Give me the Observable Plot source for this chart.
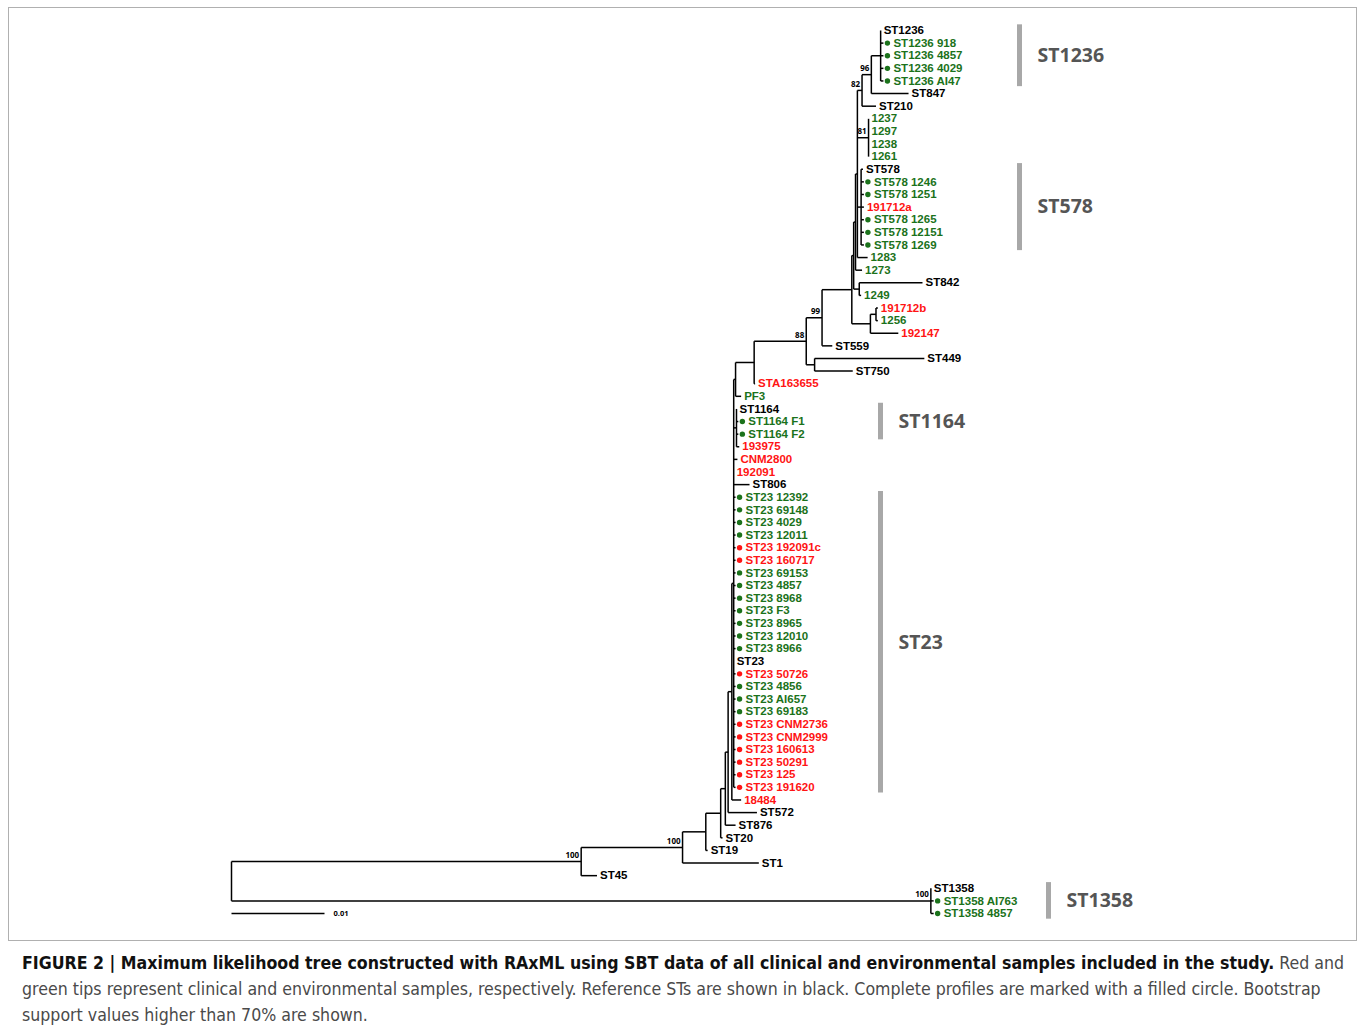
<!DOCTYPE html>
<html><head><meta charset="utf-8">
<script src="https://cdn.jsdelivr.net/npm/d3@7"></script>
<script src="https://cdn.jsdelivr.net/npm/@observablehq/plot@0.6"></script>
<style>
body{margin:0;background:#fff;font-family:"Liberation Sans",Arial,sans-serif;}
#frame{position:absolute;left:8px;top:7px;width:1347px;height:932px;border:1px solid #b0b0b0;}
#chart{position:absolute;left:0;top:0;}
#caption{position:absolute;left:22px;top:950px;font-size:17.6px;line-height:26px;color:#4a4a4a;white-space:nowrap;font-family:"Liberation Sans Narrow","DejaVu Sans Condensed","Liberation Sans",sans-serif;}
#caption b{color:#111;}
</style></head><body>
<div id="frame"></div>
<div id="chart"></div>
<div id="caption"><b>FIGURE 2 | Maximum likelihood tree constructed with RAxML using SBT data of all clinical and environmental samples included in the study.</b> Red and<br>green tips represent clinical and environmental samples, respectively. Reference STs are shown in black. Complete profiles are marked with a filled circle. Bootstrap<br>support values higher than 70% are shown.</div>
<script>
// ---- DATA: tree edges [parent, child, branch length (subst./site)] in top-to-bottom order
const edges = [
  ["root","A",0.0376],
  ["A","C",0.0109],
  ["C","D",0.0025],
  ["D","E",0.0016],
  ["E","F",0.0005],
  ["F","G",0.0003],
  ["G","H",0.0004],
  ["H","I",0.0002],
  ["I","J",0.0002],
  ["J","K",0.0020],
  ["K","N88",0.0056],
  ["N88","N99",0.0017],
  ["N99","X",0.0032],
  ["X","Y",0.0002],
  ["Y","Y3",0.0002],
  ["Y3","V",0.0002],
  ["V","N82",0.0005],
  ["N82","N96",0.0010],
  ["N96","N1236",0.0010],
  ["N1236","ST1236",0],
  ["N1236","ST1236 918",0.0003],
  ["N1236","ST1236 4857",0.0003],
  ["N1236","ST1236 4029",0.0003],
  ["N1236","ST1236 AI47",0.0003],
  ["N96","ST847",0.0040],
  ["N82","ST210",0.0015],
  ["V","N81",0.0012],
  ["N81","1237",0],["N81","1297",0],["N81","1238",0],["N81","1261",0],
  ["V","S",0.0004],
  ["S","ST578",0.0002],
  ["S","ST578 1246",0.0003],["S","ST578 1251",0.0003],["S","191712a",0.0003],
  ["S","ST578 1265",0.0003],["S","ST578 12151",0.0003],["S","ST578 1269",0.0003],
  ["V","1283",0.0011],
  ["Y3","1273",0.0007],
  ["Y","Z",0.0006],
  ["Z","ST842",0.0068],
  ["Z","1249",0.0002],
  ["X","Q",0.0020],
  ["Q","R",0.0006],
  ["R","191712b",0.0002],["R","1256",0.0002],
  ["Q","192147",0.0030],
  ["N99","ST559",0.0011],
  ["N88","N449",0.0009],
  ["N449","ST449",0.0118],
  ["N449","ST750",0.0041],
  ["K","STA163655",0.0001],
  ["J","PF3",0.0006],
  ["I","L",0.0003],
  ["L","ST1164",0],["L","ST1164 F1",0.0002],["L","ST1164 F2",0.0002],["L","193975",0.0003],
  ["I","CNM2800",0.0004],
  ["I","192091",0],
  ["I","ST806",0.0017],
  ["I","ST23 12392",0.0002],["I","ST23 69148",0.0002],["I","ST23 4029",0.0002],
  ["I","ST23 12011",0.0002],["I","ST23 192091c",0.0002],["I","ST23 160717",0.0002],
  ["I","ST23 69153",0.0002],["I","ST23 4857",0.0002],["I","ST23 8968",0.0002],
  ["I","ST23 F3",0.0002],["I","ST23 8965",0.0002],["I","ST23 12010",0.0002],
  ["I","ST23 8966",0.0002],["I","ST23",0],
  ["I","ST23 50726",0.0002],["I","ST23 4856",0.0002],["I","ST23 AI657",0.0002],
  ["I","ST23 69183",0.0002],["I","ST23 CNM2736",0.0002],["I","ST23 CNM2999",0.0002],
  ["I","ST23 160613",0.0002],["I","ST23 50291",0.0002],["I","ST23 125",0.0002],
  ["I","ST23 191620",0.0002],
  ["H","18484",0.0010],
  ["G","ST572",0.0031],
  ["F","ST876",0.0011],
  ["E","ST20",0.0002],
  ["D","ST19",0.0002],
  ["C","ST1",0.0082],
  ["A","ST45",0.0017],
  ["root","B",0.0752],
  ["B","ST1358",0],["B","ST1358 AI763",0.0003],["B","ST1358 4857",0.0003]
];
// clinical (red) tips; reference STs (black); the rest are environmental (green)
const clinicalTips = ["191712a","191712b","192147","STA163655","193975","CNM2800","192091",
  "ST23 192091c","ST23 160717","ST23 50726","ST23 CNM2736","ST23 CNM2999","ST23 160613",
  "ST23 50291","ST23 125","ST23 191620","18484"];
const referenceTips = ["ST1236","ST847","ST210","ST578","ST842","ST559","ST449","ST750","ST1164",
  "ST806","ST23","ST572","ST876","ST20","ST19","ST1","ST45","ST1358"];
// complete profiles (filled circle)
const completeTips = ["ST1236 918","ST1236 4857","ST1236 4029","ST1236 AI47",
  "ST578 1246","ST578 1251","ST578 1265","ST578 12151","ST578 1269","ST1164 F1","ST1164 F2",
  "ST23 12392","ST23 69148","ST23 4029","ST23 12011","ST23 192091c","ST23 160717","ST23 69153",
  "ST23 4857","ST23 8968","ST23 F3","ST23 8965","ST23 12010","ST23 8966","ST23 50726","ST23 4856",
  "ST23 AI657","ST23 69183","ST23 CNM2736","ST23 CNM2999","ST23 160613","ST23 50291","ST23 125",
  "ST23 191620","ST1358 AI763","ST1358 4857"];
// bootstrap support (>70%) at internal nodes
const bootNodes = ["N96","N82","N81","N99","N88","A","C","B"];
const bootValues = [96, 82, 81, 99, 88, 100, 100, 100];
// highlighted STs: name, first tip, last tip
const cladeNames = ["ST1236","ST578","ST1164","ST23","ST1358"];
const cladeFirst = ["ST1236","ST578","ST1164","ST23 12392","ST1358"];
const cladeLast  = ["ST1236 AI47","ST578 1269","ST1164 F2","ST23 191620","ST1358 4857"];
const scaleBar = 0.01;

// ---- layout (rectangular phylogram)
const kids = new Map(), blen = new Map();
for (const [p, c, l] of edges) { if (!kids.has(p)) kids.set(p, []); kids.get(p).push(c); blen.set(c, l); }
const pos = new Map(); let row = 0;
function lay(n, x0) {
  const x = x0 + (blen.get(n) || 0);
  const ch = kids.get(n);
  let y;
  if (!ch) y = row++;
  else { const ys = ch.map(c => lay(c, x)); y = (ys[0] + ys[ys.length - 1]) / 2; }
  pos.set(n, {x, y});
  return y;
}
lay("root", 0);
const hSeg = edges.map(([p, c]) => ({x1: pos.get(p).x, x2: pos.get(c).x, y: pos.get(c).y}));
const vSeg = [...kids].map(([p, ch]) => ({x: pos.get(p).x, y1: pos.get(ch[0]).y, y2: pos.get(ch[ch.length - 1]).y}));
const tips = edges.filter(([, c]) => !kids.has(c)).map(([, c]) => ({
  label: c, ...pos.get(c),
  group: clinicalTips.includes(c) ? "clinical" : referenceTips.includes(c) ? "reference" : "environmental",
  complete: completeTips.includes(c)
}));
const boots = bootNodes.map((n, i) => ({...pos.get(n), v: bootValues[i]}));
const xUnit = 93 / 0.01; // px per unit, used only to place side annotations
const barPx = [1019, 1019, 880, 880, 1048];
const clades = cladeNames.map((name, i) => ({
  name, x: (barPx[i] - 231) / xUnit,
  y1: pos.get(cladeFirst[i]).y - 0.45, y2: pos.get(cladeLast[i]).y + 0.45,
  ym: (pos.get(cladeFirst[i]).y + pos.get(cladeLast[i]).y) / 2
}));
const nRows = row - 1;

const tipFont = {fontSize: 11.5, fontWeight: "bold", textAnchor: "start", fontFamily: "Liberation Sans, Arial, sans-serif"};
const chart = Plot.plot({
  width: 1357, height: 945, margin: 0,
  x: {domain: [0, 0.1], range: [231, 231 + 0.1 * xUnit], axis: null},
  y: {domain: [0, nRows], range: [30, 913], axis: null},
  color: {domain: ["clinical", "environmental", "reference"], range: ["#ff1414", "#1b721b", "#000000"]},
  marks: [
    Plot.link(hSeg, {x1: "x1", x2: "x2", y1: "y", y2: "y", stroke: "#000", strokeWidth: 1.5}),
    Plot.link(vSeg, {x1: "x", x2: "x", y1: "y1", y2: "y2", stroke: "#000", strokeWidth: 1.5}),
    Plot.dot(tips.filter(d => d.complete), {x: "x", y: "y", dx: 4, r: 2.7, fill: "group", stroke: null}),
    Plot.text(tips.filter(d => d.complete), {x: "x", y: "y", dx: 10, text: "label", fill: "group", ...tipFont}),
    Plot.text(tips.filter(d => !d.complete), {x: "x", y: "y", dx: 3, text: "label", fill: "group", ...tipFont}),
    Plot.text(boots, {x: "x", y: "y", text: "v", dx: -2, dy: -6, textAnchor: "end", fontSize: 8, fontWeight: "bold", fill: "black"}),
    Plot.ruleX(clades, {x: "x", y1: "y1", y2: "y2", stroke: "#a8a8a8", strokeWidth: 5}),
    Plot.text(clades, {x: "x", y: "ym", text: "name", dx: 18, textAnchor: "start", fontSize: 19.5, fontWeight: "bold", fill: "#555"}),
    Plot.link([{x1: 0, x2: scaleBar, y: nRows}], {x1: "x1", x2: "x2", y1: "y", y2: "y", stroke: "#000", strokeWidth: 1.5}),
    Plot.text([{x: scaleBar, y: nRows, t: String(scaleBar)}], {x: "x", y: "y", text: "t", dx: 9, textAnchor: "start", fontSize: 7.5, fontWeight: "bold", fill: "black"})
  ]
});
document.getElementById("chart").append(chart);
</script>
</body></html>
